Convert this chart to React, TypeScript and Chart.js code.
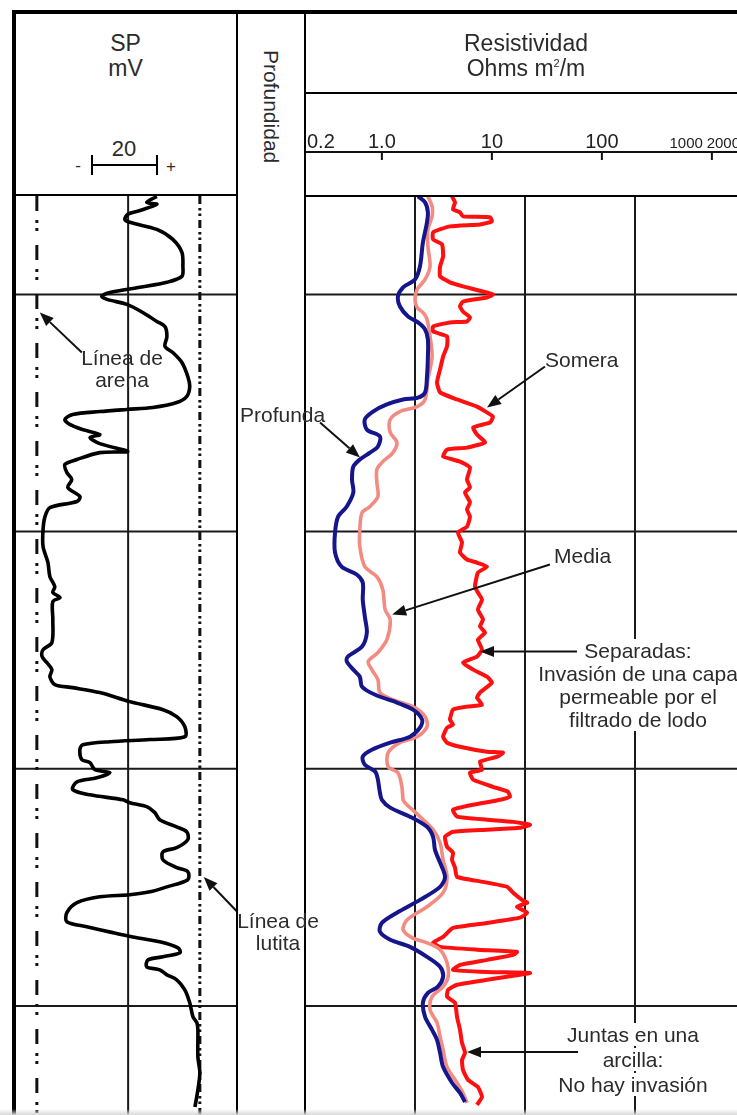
import React, { useEffect, useRef } from "react";
import { Chart, registerables } from "chart.js";

Chart.register(...registerables);

const FONT = '"Liberation Sans", Arial, sans-serif';

// ---------- depth axis ----------
const DEPTH_TOP = 58.5;
const DEPTH_BOTTOM = 446;
const DEPTH_GRID = [100, 200, 300, 400];

// ---------- SP track (mV) ----------
const SP_MIN = -56.4;
const SP_MAX = 11.4;
const SP_GRID = [-22];
const SAND_LINE = -50;
const SHALE_LINE = 0;

const SP_DEPTH = [58.7, 61.2, 62.0, 65.0, 66.2, 68.4, 69.6, 72.6, 76.8, 82.3, 88.2, 92.4, 94.9, 97.0, 99.2, 100.8, 102.1, 104.2, 107.6, 111.4, 113.5, 117.7, 121.9, 124.5, 128.7, 134.6, 138.8, 143.0, 145.6, 147.7, 148.5, 149.4, 150.6, 152.7, 154.8, 157.0, 159.1, 160.3, 162.9, 166.2, 166.7, 169.6, 171.7, 175.1, 178.0, 181.4, 185.2, 187.3, 189.9, 193.7, 199.1, 206.3, 213.1, 219.0, 223.2, 225.7, 227.8, 229.5, 237.1, 246.8, 249.8, 252.7, 255.3, 258.2, 261.2, 264.5, 265.8, 267.9, 271.7, 275.1, 278.0, 282.3, 286.5, 287.7, 288.6, 289.9, 292.0, 296.2, 297.4, 300.4, 301.7, 303.8, 305.5, 308.8, 311.0, 313.1, 314.3, 316.0, 318.5, 321.5, 324.5, 326.6, 329.9, 333.3, 335.0, 338.4, 341.7, 343.4, 346.8, 349.8, 351.9, 353.1, 354.0, 356.5, 360.7, 364.5, 366.6, 369.1, 370.9, 373.0, 375.5, 377.6, 379.3, 380.6, 383.5, 384.8, 386.9, 389.0, 393.2, 398.7, 404.6, 407.1, 410.1, 421.5, 428.2, 435.4, 442.6];
const SP_MV = [-13.2, -16.3, -13.2, -19.3, -22.1, -23.0, -21.5, -13.2, -8.3, -5.5, -5.2, -5.5, -10.1, -18.4, -27.6, -30.1, -28.5, -22.4, -17.5, -13.2, -10.7, -10.1, -10.7, -8.3, -5.5, -3.7, -3.1, -4.0, -7.1, -14.4, -22.4, -30.7, -39.0, -41.4, -39.9, -35.9, -30.7, -33.7, -30.7, -22.1, -30.7, -37.7, -41.4, -40.8, -39.3, -40.5, -36.8, -37.7, -46.0, -47.5, -48.1, -48.1, -46.6, -46.0, -44.5, -45.1, -42.9, -45.1, -45.1, -45.4, -48.1, -48.4, -46.9, -45.4, -46.0, -44.5, -39.0, -30.7, -21.5, -11.3, -7.1, -4.6, -4.6, -15.3, -27.6, -35.9, -36.8, -36.2, -33.7, -32.2, -27.6, -31.6, -37.7, -39.0, -33.7, -23.6, -21.5, -16.3, -13.8, -12.3, -7.1, -4.0, -3.7, -7.1, -11.3, -11.3, -7.1, -3.7, -3.7, -10.1, -15.3, -21.5, -30.7, -37.7, -40.8, -40.8, -34.7, -26.7, -20.6, -12.3, -6.7, -6.1, -11.3, -15.9, -16.3, -12.3, -10.1, -7.1, -4.6, -3.1, -2.1, -0.9, -0.6, -0.6, 0, -0.6, -1.5];

// ---------- Resistivity track (ohm m2/m, log) ----------
const RES_MIN = 0.2;
const RES_MAX = 2000;
const RES_GRID = [2, 20, 200];
const RES_TICKS = [1, 10, 100, 1000];
const RES_SCALE_VALUES = [0.2, 1, 10, 100, 1000, 2000];
const RES_SCALE_LABELS = ["0.2", "1.0", "10", "100", "1000", "2000"];

const DEEP_DEPTH = [58.7, 61.2, 65.4, 69.6, 78.1, 88.2, 93.7, 97.0, 100.8, 105.1, 109.3, 111.8, 114.8, 119.0, 126.2, 134.6, 141.3, 143.5, 144.3, 146.4, 149.4, 152.7, 157.0, 159.9, 164.1, 166.7, 169.6, 172.6, 178.0, 183.5, 189.4, 193.7, 200.4, 208.8, 214.8, 218.1, 221.5, 228.7, 235.9, 242.6, 248.5, 252.7, 254.8, 258.2, 261.2, 265.4, 268.8, 272.1, 275.1, 279.3, 282.7, 286.5, 289.0, 292.0, 294.9, 298.3, 301.2, 304.6, 310.1, 313.1, 316.4, 320.2, 324.5, 328.7, 334.2, 339.6, 345.6, 349.8, 355.3, 360.7, 365.0, 368.7, 372.1, 375.1, 379.3, 383.5, 387.7, 391.9, 394.5, 398.7, 404.6, 410.1, 414.3, 419.8, 425.7, 432.4, 436.7, 440.5];
const DEEP_RES = [2.13, 2.47, 2.62, 2.57, 2.36, 2.22, 2.0, 1.56, 1.4, 1.46, 1.73, 2.13, 2.47, 2.62, 2.62, 2.57, 2.47, 2.13, 1.56, 1.11, 0.83, 0.7, 0.73, 0.96, 0.92, 0.78, 0.63, 0.55, 0.535, 0.55, 0.48, 0.4, 0.375, 0.375, 0.43, 0.59, 0.67, 0.67, 0.7, 0.73, 0.66, 0.49, 0.48, 0.55, 0.63, 0.66, 0.87, 1.37, 1.92, 2.32, 2.22, 1.8, 1.19, 0.81, 0.67, 0.7, 0.87, 0.92, 0.96, 1.0, 1.19, 1.8, 2.57, 2.92, 3.04, 3.38, 3.75, 3.38, 2.22, 1.37, 1.0, 0.96, 1.19, 1.8, 2.57, 3.38, 3.6, 3.23, 2.62, 2.36, 2.47, 2.86, 3.17, 3.38, 3.6, 4.34, 5.13, 5.7];

const MED_DEPTH = [58.7, 62.9, 67.1, 72.6, 79.7, 88.2, 93.7, 97.9, 102.1, 105.5, 107.6, 110.5, 117.7, 126.2, 135.9, 144.3, 147.3, 149.4, 152.7, 158.2, 162.4, 166.7, 170.5, 173.8, 179.3, 185.2, 189.4, 192.0, 199.1, 206.3, 214.8, 219.0, 224.5, 232.9, 237.1, 245.6, 251.0, 254.8, 258.2, 262.4, 267.9, 270.9, 273.8, 278.0, 282.3, 286.5, 289.0, 293.2, 299.1, 301.7, 307.6, 313.1, 314.3, 320.2, 325.7, 331.2, 338.4, 345.6, 352.3, 358.2, 363.7, 367.9, 371.3, 373.4, 376.3, 381.8, 387.7, 391.9, 396.1, 401.6, 407.1, 413.0, 418.5, 425.7, 432.4, 436.7, 440.9];
const MED_RES = [2.62, 2.86, 2.86, 2.62, 2.62, 2.74, 2.47, 2.09, 2.0, 2.09, 2.36, 2.57, 2.74, 2.86, 2.62, 2.47, 2.09, 1.46, 1.19, 1.19, 1.37, 1.26, 1.02, 0.9, 0.9, 0.92, 0.78, 0.66, 0.63, 0.63, 0.7, 0.9, 1.02, 1.07, 1.19, 1.11, 0.92, 0.75, 0.81, 0.92, 0.96, 1.26, 1.92, 2.47, 2.57, 2.09, 1.46, 1.14, 1.14, 1.4, 1.52, 1.56, 1.62, 2.22, 2.92, 3.38, 3.6, 3.91, 3.6, 2.57, 1.7, 1.56, 1.89, 2.57, 3.38, 3.91, 4.0, 3.6, 2.86, 2.74, 3.17, 3.38, 3.6, 3.91, 4.82, 5.46, 5.94];

const SHAL_DEPTH = [58.7, 61.2, 64.1, 65.4, 67.1, 67.5, 69.2, 70.5, 71.3, 73.8, 76.8, 78.9, 84.0, 88.2, 92.4, 94.9, 96.6, 100.0, 101.3, 103.0, 105.1, 107.2, 109.7, 111.4, 111.8, 113.5, 115.6, 117.7, 121.9, 126.2, 131.6, 137.1, 141.3, 144.3, 147.3, 151.5, 154.0, 156.1, 159.1, 162.4, 164.6, 165.4, 168.3, 170.5, 173.0, 178.0, 181.4, 183.5, 187.7, 190.7, 193.7, 197.9, 200.4, 204.6, 208.8, 211.8, 213.1, 214.8, 217.3, 223.2, 225.7, 228.7, 232.9, 237.1, 240.0, 242.6, 245.6, 249.8, 252.7, 255.3, 258.2, 261.2, 263.7, 267.9, 270.0, 273.0, 273.8, 275.1, 279.3, 281.4, 282.7, 286.5, 289.0, 290.7, 292.8, 293.2, 294.9, 297.0, 300.4, 301.7, 304.6, 307.6, 309.7, 311.8, 313.1, 315.2, 317.3, 320.2, 321.5, 322.4, 323.6, 324.9, 325.7, 326.6, 328.7, 332.9, 335.4, 338.4, 341.7, 345.6, 347.7, 349.8, 352.3, 355.3, 356.5, 358.2, 360.7, 362.8, 365.0, 367.1, 370.9, 373.4, 375.1, 376.3, 377.2, 378.5, 380.6, 382.7, 384.8, 385.7, 386.1, 386.9, 389.0, 391.1, 393.2, 396.1, 398.7, 404.6, 410.1, 415.6, 419.8, 422.8, 427.0, 431.2, 434.2, 438.4, 441.7];
const SHAL_RES = [4.34, 4.62, 4.43, 5.13, 5.46, 9.62, 10.0, 7.8, 4.16, 2.92, 2.92, 3.52, 3.6, 3.38, 3.38, 4.16, 5.46, 10.2, 9.03, 5.46, 5.13, 5.46, 6.32, 5.94, 4.16, 2.92, 2.92, 3.91, 3.91, 3.6, 3.38, 3.17, 3.38, 4.82, 7.32, 10.2, 9.62, 6.75, 7.32, 8.66, 5.94, 3.91, 3.6, 5.13, 6.32, 5.94, 6.32, 5.7, 6.32, 5.94, 6.32, 5.94, 4.92, 5.35, 5.13, 5.94, 7.32, 9.03, 7.47, 7.02, 7.47, 8.13, 7.47, 8.3, 7.8, 8.66, 7.47, 8.13, 7.32, 5.46, 6.75, 9.03, 10.0, 7.8, 7.32, 8.13, 5.94, 4.43, 4.16, 4.43, 3.91, 3.6, 3.91, 5.13, 9.03, 12.6, 11.2, 7.8, 8.13, 6.32, 6.75, 10.2, 14.0, 14.6, 11.9, 6.75, 4.43, 4.82, 9.03, 15.6, 22.2, 18.0, 9.03, 4.43, 3.75, 3.91, 4.43, 4.34, 4.62, 4.82, 8.3, 13.8, 15.6, 18.8, 20.9, 16.9, 20.9, 18.0, 9.03, 4.43, 3.6, 2.92, 3.38, 7.32, 16.9, 15.6, 9.03, 5.13, 4.43, 9.03, 22.2, 18.0, 9.03, 4.82, 4.0, 3.91, 4.62, 4.82, 5.13, 5.35, 5.7, 5.35, 5.46, 6.07, 7.47, 8.13, 7.32];

// ---------- annotation arrows (tail -> head, in data units) ----------
const SAND_ARROW = [-36.2, 124.5, -49.1, 107.6];
const SHALE_ARROW = [13.2, 362.8, 1.2, 345.6];
const PROFUNDA_ARROW = [0.274, 154.0, 0.632, 168.8];
const SOMERA_ARROW = [30.4, 130.4, 9.03, 147.7];
const MEDIA_ARROW = [33.7, 213.9, 1.24, 235.0];
const SEPARADAS_ARROW = [59.4, 250.6, 7.8, 250.6];
const JUNTAS_ARROW = [60.7, 419.4, 5.94, 419.4];

const pts = (ys: number[], xs: number[]) => ys.map((y, i) => ({ x: xs[i], y }));

function drawArrow(ctx: CanvasRenderingContext2D, x1: number, y1: number, x2: number, y2: number) {
  const ang = Math.atan2(y2 - y1, x2 - x1);
  const L = 14, W = 5.5;
  const bx = x2 - L * Math.cos(ang), by = y2 - L * Math.sin(ang);
  ctx.beginPath();
  ctx.moveTo(x1, y1);
  ctx.lineTo(bx, by);
  ctx.stroke();
  ctx.beginPath();
  ctx.moveTo(x2, y2);
  ctx.lineTo(bx + W * Math.sin(ang), by - W * Math.cos(ang));
  ctx.lineTo(bx - W * Math.sin(ang), by + W * Math.cos(ang));
  ctx.closePath();
  ctx.fill();
}

function gridPlugin(xs: number[], ys: number[]) {
  return {
    id: "trackGrid",
    beforeDatasetsDraw(chart: any) {
      const { ctx, chartArea: a, scales } = chart;
      ctx.save();
      ctx.strokeStyle = "#1a1a1a";
      ctx.lineWidth = 2;
      ctx.beginPath();
      for (const v of xs) {
        const px = scales.x.getPixelForValue(v);
        ctx.moveTo(px, a.top);
        ctx.lineTo(px, a.bottom);
      }
      for (const v of ys) {
        const py = scales.y.getPixelForValue(v);
        ctx.moveTo(a.left, py);
        ctx.lineTo(a.right, py);
      }
      ctx.stroke();
      ctx.restore();
    },
  };
}

function arrowPlugin(arrows: number[][]) {
  return {
    id: "arrows",
    afterDatasetsDraw(chart: any) {
      const { ctx, scales } = chart;
      ctx.save();
      ctx.strokeStyle = "#111";
      ctx.fillStyle = "#111";
      ctx.lineWidth = 2;
      for (const [x1, y1, x2, y2] of arrows) {
        drawArrow(
          ctx,
          scales.x.getPixelForValue(x1),
          scales.y.getPixelForValue(y1),
          scales.x.getPixelForValue(x2),
          scales.y.getPixelForValue(y2)
        );
      }
      ctx.restore();
    },
  };
}

const headerScalePlugin = {
  id: "headerScale",
  afterDraw(chart: any) {
    const { ctx, chartArea: a, scales } = chart;
    const x = scales.x;
    const yLine = a.top - 44;
    ctx.save();
    ctx.strokeStyle = "#111";
    ctx.lineWidth = 2;
    ctx.beginPath();
    ctx.moveTo(a.left, yLine);
    ctx.lineTo(a.right, yLine);
    for (const v of RES_TICKS) {
      const px = x.getPixelForValue(v);
      ctx.moveTo(px, yLine);
      ctx.lineTo(px, yLine + 8);
    }
    ctx.stroke();
    ctx.fillStyle = "#222";
    ctx.textBaseline = "alphabetic";
    RES_SCALE_VALUES.forEach((v, i) => {
      const px = x.getPixelForValue(v);
      const label = RES_SCALE_LABELS[i];
      if (v >= 1000) {
        ctx.font = `15px ${FONT}`;
        ctx.textAlign = "right";
        ctx.fillText(label, v >= 2000 ? px - 5 : px - 9, yLine - 4);
      } else if (i === 0) {
        ctx.font = `20px ${FONT}`;
        ctx.textAlign = "left";
        ctx.fillText(label, px + 2, yLine - 4);
      } else {
        ctx.font = `20px ${FONT}`;
        ctx.textAlign = "center";
        ctx.fillText(label, px, yLine - 4);
      }
    });
    ctx.restore();
  },
};

const baseOptions = {
  animation: false as const,
  responsive: false,
  maintainAspectRatio: false,
  devicePixelRatio: 1,
  events: [] as any[],
  plugins: { legend: { display: false }, tooltip: { enabled: false } },
};

function SPTrack() {
  const ref = useRef<HTMLCanvasElement>(null);
  useEffect(() => {
    const chart = new Chart(ref.current as HTMLCanvasElement, {
      type: "scatter",
      data: {
        datasets: [
          {
            data: pts(SP_DEPTH, SP_MV),
            showLine: true,
            borderColor: "#000",
            borderWidth: 3.6,
            pointRadius: 0,
            tension: 0.3,
          },
          {
            data: [
              { x: SAND_LINE, y: DEPTH_TOP },
              { x: SAND_LINE, y: DEPTH_BOTTOM },
            ],
            showLine: true,
            borderColor: "#111",
            borderWidth: 3,
            borderDash: [15, 9, 3, 5, 3, 14],
            pointRadius: 0,
          },
          {
            data: [
              { x: SHALE_LINE, y: DEPTH_TOP },
              { x: SHALE_LINE, y: DEPTH_BOTTOM },
            ],
            showLine: true,
            borderColor: "#111",
            borderWidth: 3,
            borderDash: [8, 4, 2.5, 3, 2.5, 4],
            pointRadius: 0,
          },
        ],
      } as any,
      options: {
        ...baseOptions,
        layout: { padding: 0 },
        scales: {
          x: { type: "linear", min: SP_MIN, max: SP_MAX, display: false },
          y: { type: "linear", min: DEPTH_TOP, max: DEPTH_BOTTOM, reverse: true, display: false },
        },
      } as any,
      plugins: [gridPlugin(SP_GRID, DEPTH_GRID), arrowPlugin([SAND_ARROW, SHALE_ARROW])],
    });
    return () => chart.destroy();
  }, []);
  return (
    <canvas
      ref={ref}
      width={221}
      height={919}
      style={{ position: "absolute", left: 16, top: 196, width: 221, height: 919 }}
    />
  );
}

function ResTrack() {
  const ref = useRef<HTMLCanvasElement>(null);
  useEffect(() => {
    const line = (d: number[], r: number[], color: string, w: number, t: number) => ({
      data: pts(d, r),
      showLine: true,
      borderColor: color,
      borderWidth: w,
      pointRadius: 0,
      tension: t,
    });
    const chart = new Chart(ref.current as HTMLCanvasElement, {
      type: "scatter",
      data: {
        datasets: [
          line(DEEP_DEPTH, DEEP_RES, "#16168c", 4, 0.3),
          line(MED_DEPTH, MED_RES, "#f28b82", 3.6, 0.3),
          line(SHAL_DEPTH, SHAL_RES, "#ff1010", 4, 0.15),
        ],
      } as any,
      options: {
        ...baseOptions,
        layout: { padding: { top: 103, left: 0, right: 0, bottom: 0 } },
        scales: {
          x: { type: "logarithmic", min: RES_MIN, max: RES_MAX, display: false },
          y: { type: "linear", min: DEPTH_TOP, max: DEPTH_BOTTOM, reverse: true, display: false },
        },
      } as any,
      plugins: [
        gridPlugin(RES_GRID, DEPTH_GRID),
        arrowPlugin([PROFUNDA_ARROW, SOMERA_ARROW, MEDIA_ARROW, SEPARADAS_ARROW, JUNTAS_ARROW]),
        headerScalePlugin,
      ],
    });
    return () => chart.destroy();
  }, []);
  return (
    <canvas
      ref={ref}
      width={440}
      height={1022}
      style={{ position: "absolute", left: 305, top: 93, width: 440, height: 1022 }}
    />
  );
}

const bar = (left: number, top: number, width: number, height: number): React.CSSProperties => ({
  position: "absolute",
  left,
  top,
  width,
  height,
  background: "#000",
});

const txt = (left: number, top: number, width: number, extra: React.CSSProperties = {}): React.CSSProperties => ({
  position: "absolute",
  left,
  top,
  width,
  textAlign: "center",
  fontSize: 21,
  lineHeight: "25px",
  whiteSpace: "nowrap",
  ...extra,
});

const boxed: React.CSSProperties = { background: "#fff", padding: "0 2px" };

export default function App() {
  return (
    <div
      style={{
        position: "fixed",
        left: 0,
        top: 0,
        width: 737,
        height: 1115,
        overflow: "hidden",
        background: "#fff",
        fontFamily: FONT,
        color: "#2b2b2b",
      }}
    >
      <SPTrack />
      <ResTrack />

      {/* frame */}
      <div style={bar(12, 10, 725, 4)} />
      <div style={bar(12, 10, 4, 1105)} />
      <div style={bar(16, 194, 221, 2)} />
      <div style={bar(236, 14, 2, 1101)} />
      <div style={bar(304, 14, 2, 1101)} />
      <div style={bar(306, 92, 431, 2)} />
      <div style={bar(306, 195, 431, 2)} />
      <div
        style={{
          position: "absolute",
          left: 0,
          top: 1109,
          width: 737,
          height: 6,
          background: "linear-gradient(#ffffff00, #d8d8d8)",
        }}
      />

      {/* SP header */}
      <div style={txt(16, 31, 219, { fontSize: 23 })}>
        SP
        <br />
        mV
      </div>
      <div style={txt(99, 136, 50, { fontSize: 22 })}>20</div>
      <div style={bar(92, 164, 65, 2)} />
      <div style={bar(91, 155, 2, 20)} />
      <div style={bar(156, 155, 2, 20)} />
      <div style={txt(70, 153, 16, { fontSize: 17 })}>-</div>
      <div style={txt(163, 154, 16, { fontSize: 17 })}>+</div>

      {/* depth header */}
      <div
        style={{
          position: "absolute",
          left: 259,
          top: 50,
          writingMode: "vertical-rl",
          fontSize: 21,
          lineHeight: "24px",
          whiteSpace: "nowrap",
        }}
      >
        Profundidad
      </div>

      {/* resistivity header */}
      <div style={txt(306, 31, 440, { fontSize: 23 })}>
        Resistividad
        <br />
        Ohms m<sup style={{ fontSize: 11, verticalAlign: "top", lineHeight: "14px" }}>2</sup>/m
      </div>

      {/* annotations */}
      <div style={txt(62, 347, 120, { lineHeight: "22px" })}>
        Línea de
        <br />
        arena
      </div>
      <div style={txt(218, 910, 120, { lineHeight: "22px" })}>
        Línea de
        <br />
        lutita
      </div>
      <div style={txt(240, 402, 84, { textAlign: "left" })}>Profunda</div>
      <div style={txt(545, 347, 90, { textAlign: "left" })}>Somera</div>
      <div style={txt(554, 543, 80, { textAlign: "left" })}>Media</div>
      <div style={txt(536, 639, 204, { lineHeight: "23px" })}>
        <div><span style={boxed}>Separadas:</span></div>
        <div><span style={boxed}>Invasión de una capa</span></div>
        <div><span style={boxed}>permeable por el</span></div>
        <div><span style={boxed}>filtrado de lodo</span></div>
      </div>
      <div style={txt(533, 1022, 200)}>
        <div><span style={boxed}>Juntas en una</span></div>
        <div><span style={boxed}>arcilla:</span></div>
        <div><span style={boxed}>No hay invasión</span></div>
      </div>
    </div>
  );
}
